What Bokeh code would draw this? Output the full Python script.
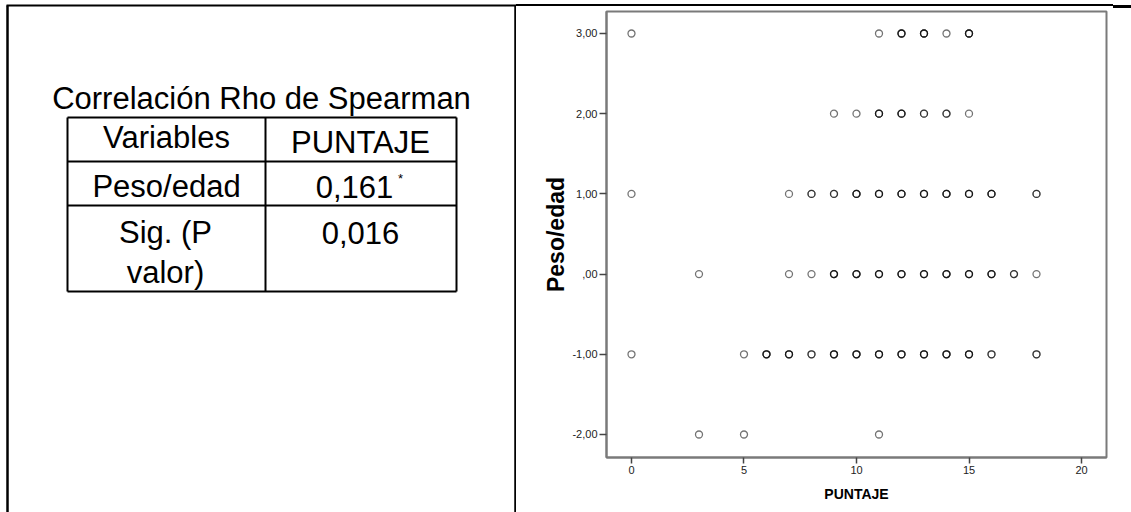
from bokeh.plotting import figure
from bokeh.layouts import row
from bokeh.models import Range1d, FixedTicker, ColumnDataSource
from bokeh.core.properties import value
from bokeh.embed import file_html
from bokeh.resources import INLINE

# ---------------- data ----------------
title = "Correlación Rho de Spearman"
col_headers = ["Variables", "PUNTAJE"]
row_labels = ["Peso/edad", ["Sig. (P", "valor)"]]
rho_value = "0,161"
rho_mark = "*"
p_value = "0,016"

# scatter: PUNTAJE (x), Peso/edad (y), number of overlapping cases
puntaje = [0, 11, 12, 13, 14, 15,
           9, 10, 11, 12, 13, 14, 15,
           0, 7, 8, 9, 10, 11, 12, 13, 14, 15, 16, 18,
           3, 7, 8, 9, 10, 11, 12, 13, 14, 15, 16, 17, 18,
           0, 5, 6, 7, 8, 9, 10, 11, 12, 13, 14, 15, 16, 18,
           3, 5, 11]
peso_edad = [3, 3, 3, 3, 3, 3,
             2, 2, 2, 2, 2, 2, 2,
             1, 1, 1, 1, 1, 1, 1, 1, 1, 1, 1, 1,
             0, 0, 0, 0, 0, 0, 0, 0, 0, 0, 0, 0, 0,
             -1, -1, -1, -1, -1, -1, -1, -1, -1, -1, -1, -1, -1, -1,
             -2, -2, -2]
frecuencia = [1, 1, 3, 3, 1, 3,
              1, 1, 3, 3, 2, 2, 1,
              1, 1, 2, 2, 3, 3, 3, 3, 3, 3, 3, 2,
              1, 1, 1, 3, 3, 3, 3, 3, 3, 3, 3, 2, 1,
              1, 1, 3, 3, 2, 3, 3, 3, 3, 3, 3, 3, 2, 2,
              1, 1, 1]

x_ticks = [0, 5, 10, 15, 20]
y_ticks = [-2, -1, 0, 1, 2, 3]
y_tick_labels = ["-2,00", "-1,00", ",00", "1,00", "2,00", "3,00"]
x_label = "PUNTAJE"
y_label = "Peso/edad"

FONT = "Liberation Sans"

# ---------------- left panel: table ----------------
left = figure(width=516, height=512, x_range=Range1d(0, 516), y_range=Range1d(512, 0),
              toolbar_location=None, output_backend="svg", min_border=0,
              x_axis_location=None, y_axis_location=None)
left.grid.visible = False
left.outline_line_color = None
left.background_fill_color = "white"
left.frame_align = False

# page frame
left.segment(x0=[7, 515], y0=[5, 5], x1=[7, 515], y1=[512, 512], line_color="black", line_width=2.5)
left.segment(x0=[6], y0=[5], x1=[516], y1=[5], line_color="black", line_width=2)
# table grid
tx0, tx1, tcol = 67, 456, 265
ty = [117, 161, 205, 291]
left.segment(x0=[tx0] * 4, y0=ty, x1=[tx1] * 4, y1=ty, line_color="black", line_width=2)
left.segment(x0=[tx0, tcol, tx1], y0=[ty[0]] * 3, x1=[tx0, tcol, tx1], y1=[ty[-1]] * 3,
             line_color="black", line_width=2)

big = dict(text_font=value(FONT), text_font_size="31px", text_color="black",
           text_align="center", text_baseline="alphabetic")
dy = -10
left.text(x=[261], y=[108 + dy], text=[title], **big)
left.text(x=[166, 360], y=[147 + dy, 152 + dy], text=col_headers, **big)
left.text(x=[166, 354], y=[196 + dy, 196 + dy], text=[row_labels[0], rho_value], **big)
left.text(x=[400], y=[188 + dy], text=[rho_mark], text_font=value(FONT), text_font_size="13px",
          text_align="center", text_baseline="alphabetic", text_color="black")
left.text(x=[165, 165, 360], y=[242 + dy, 282 + dy, 242 + dy],
          text=[row_labels[1][0], row_labels[1][1], p_value], **big)

# ---------------- right panel: scatter ----------------
xs, ys = [], []
for x, y, n in zip(puntaje, peso_edad, frecuencia):
    xs += [x] * n
    ys += [y] * n
src = ColumnDataSource(dict(x=xs, y=ys))

p = figure(width=615, height=512, x_range=Range1d(-1.111, 21.111), y_range=Range1d(-2.287, 3.274),
           toolbar_location=None, output_backend="svg",
           min_border_left=90, min_border_right=25, min_border_top=11, min_border_bottom=55)
p.grid.visible = False
p.outline_line_color = "#7a7a7a"
p.outline_line_width = 2
p.background_fill_color = "white"
p.border_fill_color = None
p.frame_align = False
# page frame line across the top of this panel (page decoration, CSS background)
p.styles = {
    "background-color": "white",
    "background-image": "linear-gradient(#000, #000), linear-gradient(#000, #000)",
    "background-position": "0px 4px, 597px 5px",
    "background-size": "597px 2px, 18px 3px",
    "background-repeat": "no-repeat, no-repeat",
}

p.scatter("x", "y", source=src, marker="circle", size=7, fill_color=None,
          line_color="black", line_alpha=0.55, line_width=1.3)

p.xaxis.ticker = FixedTicker(ticks=x_ticks)
p.yaxis.ticker = FixedTicker(ticks=y_ticks)
p.yaxis.major_label_overrides = {t: l for t, l in zip(y_ticks, y_tick_labels)}
p.xaxis.axis_label = x_label
p.yaxis.axis_label = y_label

for ax in (p.xaxis[0], p.yaxis[0]):
    ax.axis_line_color = "#7a7a7a"
    ax.axis_line_width = 2
    ax.major_tick_line_color = "#444444"
    ax.major_tick_line_width = 1.5
    ax.major_tick_in = 0
    ax.minor_tick_line_color = None
    ax.major_label_text_font = FONT
    ax.major_label_text_font_size = "11px"
    ax.major_label_text_color = "#222222"
    ax.axis_label_text_font = FONT
    ax.axis_label_text_font_style = "bold"
    ax.axis_label_text_color = "black"
    ax.major_label_standoff = 2

p.yaxis.major_tick_out = 7
p.xaxis.major_tick_out = 6
p.yaxis.axis_label_text_font_size = "23px"
p.yaxis.axis_label_standoff = 0
p.xaxis.axis_label_text_font_size = "14px"
p.xaxis.axis_label_standoff = 9

layout = row(left, p, spacing=0)
open("out.html", "w").write(file_html(layout, INLINE))
